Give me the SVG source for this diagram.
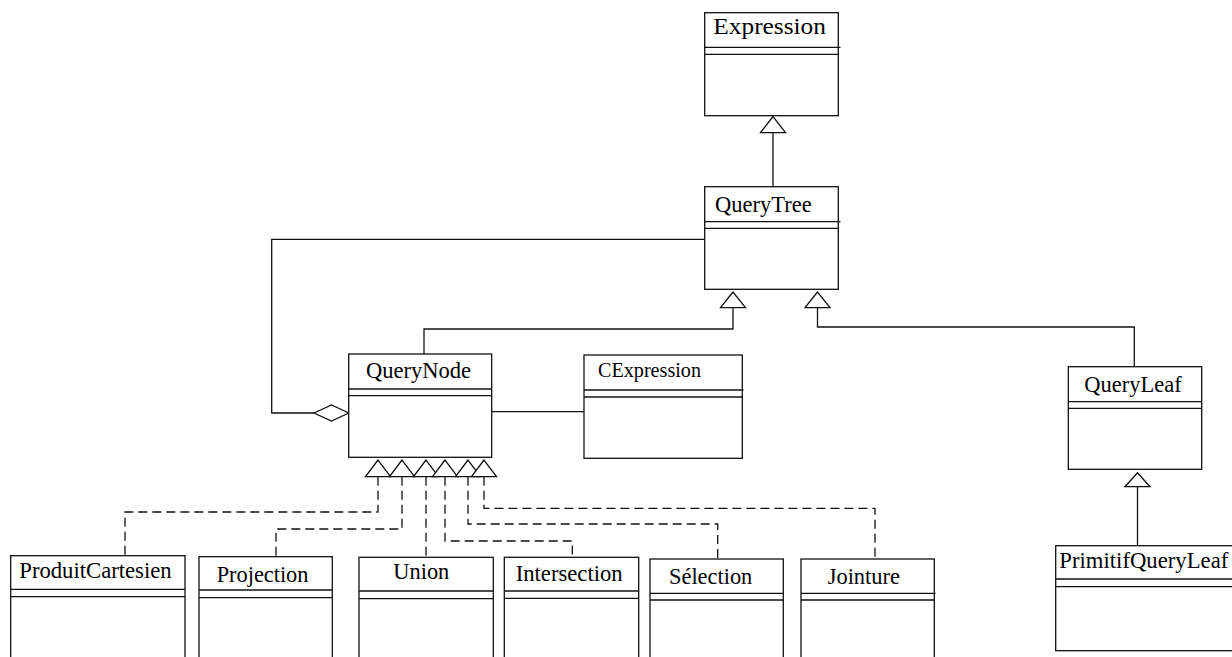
<svg xmlns="http://www.w3.org/2000/svg" width="1232" height="657" viewBox="0 0 1232 657">
<style>
.box{fill:#fff;stroke:#111;stroke-width:1.3}
.sep{stroke:#111;stroke-width:1.3;fill:none}
.lbl{font-family:"Liberation Serif","Times New Roman",serif;font-size:22.5px;fill:#000}
.ln{stroke:#111;stroke-width:1.3;fill:none}
.dash{stroke:#111;stroke-width:1.3;fill:none;stroke-dasharray:9,5}
.tri{fill:#fff;stroke:#111;stroke-width:1.3}
</style>
<rect width="1232" height="657" fill="#fff"/>
<g id="connectors">
  <!-- Expression <- QueryTree -->
  <line class="ln" x1="773" y1="132.7" x2="773" y2="186.7"/>
  <polygon class="tri" points="773,116.5 760.5,132.7 785.5,132.7"/>
  <!-- QueryTree <- QueryNode -->
  <polyline class="ln" points="733,307.7 733,329 424,329 424,354"/>
  <polygon class="tri" points="733,292 720.5,307.7 745.5,307.7"/>
  <!-- QueryTree <- QueryLeaf -->
  <polyline class="ln" points="817.5,307.7 817.5,327 1134.3,327 1134.3,366.7"/>
  <polygon class="tri" points="817.5,292 805,307.7 830,307.7"/>
  <!-- aggregation QueryTree - QueryNode -->
  <polyline class="ln" points="704.7,239.3 271.7,239.3 271.7,413 314,413"/>
  <polygon class="tri" points="314,413 331.5,405 348.7,413 331.5,421"/>
  <!-- QueryNode - CExpression -->
  <line class="ln" x1="491.7" y1="411.7" x2="584" y2="411.7"/>
  <!-- QueryLeaf <- PrimitifQueryLeaf -->
  <line class="ln" x1="1137.5" y1="486.7" x2="1137.5" y2="545.7"/>
  <polygon class="tri" points="1137.5,472.7 1125,486.7 1150,486.7"/>
  <!-- realisations from QueryNode -->
  <polyline class="dash" points="378,476.7 378,512 125,512 125,555.7"/>
  <polyline class="dash" points="402,476.7 402,529 276,529 276,556.7"/>
  <polyline class="dash" points="426,476.7 426,557.3"/>
  <polyline class="dash" points="445,476.7 445,541 572.3,541 572.3,557.3"/>
  <polyline class="dash" points="468,476.7 468,524 717.7,524 717.7,559"/>
  <polyline class="dash" points="484,476.7 484,508.3 875,508.3 875,559"/>
  <polygon class="tri" points="378,460 365.5,476.7 390.5,476.7"/>
  <polygon class="tri" points="402,460 389.5,476.7 414.5,476.7"/>
  <polygon class="tri" points="426,460 413.5,476.7 438.5,476.7"/>
  <polygon class="tri" points="445,460 432.5,476.7 457.5,476.7"/>
  <polygon class="tri" points="468,460 455.5,476.7 480.5,476.7"/>
  <polygon class="tri" points="484,460 471.5,476.7 496.5,476.7"/>
</g>
<g id="Expression">
  <rect class="box" x="704.7" y="12.7" width="133.6" height="103"/>
  <line class="sep" x1="704.7" y1="47.3" x2="840.5" y2="47.3"/>
  <line class="sep" x1="704.7" y1="54.3" x2="838.3" y2="54.3"/>
  <text class="lbl" x="713.3" y="34.3" textLength="112.7" lengthAdjust="spacingAndGlyphs">Expression</text>
</g>
<g id="QueryTree">
  <rect class="box" x="704.7" y="186.7" width="133.6" height="102.6"/>
  <line class="sep" x1="704.7" y1="221.7" x2="840.5" y2="221.7"/>
  <line class="sep" x1="704.7" y1="228.3" x2="838.3" y2="228.3"/>
  <text class="lbl" x="715" y="211.7" textLength="96.7" lengthAdjust="spacingAndGlyphs">QueryTree</text>
</g>
<g id="QueryNode">
  <rect class="box" x="348.7" y="354" width="143" height="103.3"/>
  <line class="sep" x1="348.7" y1="389" x2="491.7" y2="389"/>
  <line class="sep" x1="348.7" y1="395.7" x2="491.7" y2="395.7"/>
  <text class="lbl" x="366" y="378.3" textLength="105" lengthAdjust="spacingAndGlyphs">QueryNode</text>
</g>
<g id="CExpression">
  <rect class="box" x="584" y="355" width="158.3" height="103.3"/>
  <line class="sep" x1="584" y1="390" x2="743.5" y2="390"/>
  <line class="sep" x1="584" y1="397" x2="742.3" y2="397"/>
  <text class="lbl" x="598" y="376.7" style="font-size:20px" textLength="103" lengthAdjust="spacingAndGlyphs">CExpression</text>
</g>
<g id="QueryLeaf">
  <rect class="box" x="1068.3" y="366.7" width="133.4" height="102.6"/>
  <line class="sep" x1="1068.3" y1="401.7" x2="1201.7" y2="401.7"/>
  <line class="sep" x1="1068.3" y1="408.3" x2="1201.7" y2="408.3"/>
  <text class="lbl" x="1084.3" y="391.7" textLength="97.4" lengthAdjust="spacingAndGlyphs">QueryLeaf</text>
</g>
<g id="PrimitifQueryLeaf">
  <rect class="box" x="1055.7" y="545.7" width="190" height="105"/>
  <line class="sep" x1="1055.7" y1="579" x2="1240" y2="579"/>
  <line class="sep" x1="1055.7" y1="586.7" x2="1240" y2="586.7"/>
  <text class="lbl" x="1059.3" y="568.3" textLength="169" lengthAdjust="spacingAndGlyphs">PrimitifQueryLeaf</text>
</g>
<g id="ProduitCartesien">
  <rect class="box" x="10.7" y="555.7" width="174.3" height="120"/>
  <line class="sep" x1="10.7" y1="589.3" x2="185" y2="589.3"/>
  <line class="sep" x1="10.7" y1="596.7" x2="185" y2="596.7"/>
  <text class="lbl" x="19.3" y="578.3" textLength="152.3" lengthAdjust="spacingAndGlyphs">ProduitCartesien</text>
</g>
<g id="Projection">
  <rect class="box" x="199" y="556.7" width="133.3" height="120"/>
  <line class="sep" x1="199" y1="590" x2="332.3" y2="590"/>
  <line class="sep" x1="199" y1="597.7" x2="332.3" y2="597.7"/>
  <text class="lbl" x="216.7" y="581.7" textLength="91.7" lengthAdjust="spacingAndGlyphs">Projection</text>
</g>
<g id="Union">
  <rect class="box" x="359" y="557.3" width="134.3" height="120"/>
  <line class="sep" x1="359" y1="591" x2="493.3" y2="591"/>
  <line class="sep" x1="359" y1="598.7" x2="493.3" y2="598.7"/>
  <text class="lbl" x="393.3" y="579" textLength="56" lengthAdjust="spacingAndGlyphs">Union</text>
</g>
<g id="Intersection">
  <rect class="box" x="504.3" y="557.3" width="134.4" height="120"/>
  <line class="sep" x1="504.3" y1="591" x2="638.7" y2="591"/>
  <line class="sep" x1="504.3" y1="598.3" x2="638.7" y2="598.3"/>
  <text class="lbl" x="515.7" y="581" textLength="107" lengthAdjust="spacingAndGlyphs">Intersection</text>
</g>
<g id="Selection">
  <rect class="box" x="650" y="559" width="133.3" height="120"/>
  <line class="sep" x1="650" y1="593.3" x2="783.3" y2="593.3"/>
  <line class="sep" x1="650" y1="600" x2="783.3" y2="600"/>
  <text class="lbl" x="669" y="584" textLength="83.3" lengthAdjust="spacingAndGlyphs">Sélection</text>
</g>
<g id="Jointure">
  <rect class="box" x="801" y="559" width="133.3" height="120"/>
  <line class="sep" x1="801" y1="593.3" x2="935.5" y2="593.3"/>
  <line class="sep" x1="801" y1="600" x2="934.3" y2="600"/>
  <text class="lbl" x="827.7" y="584" textLength="72.3" lengthAdjust="spacingAndGlyphs">Jointure</text>
</g>
</svg>
